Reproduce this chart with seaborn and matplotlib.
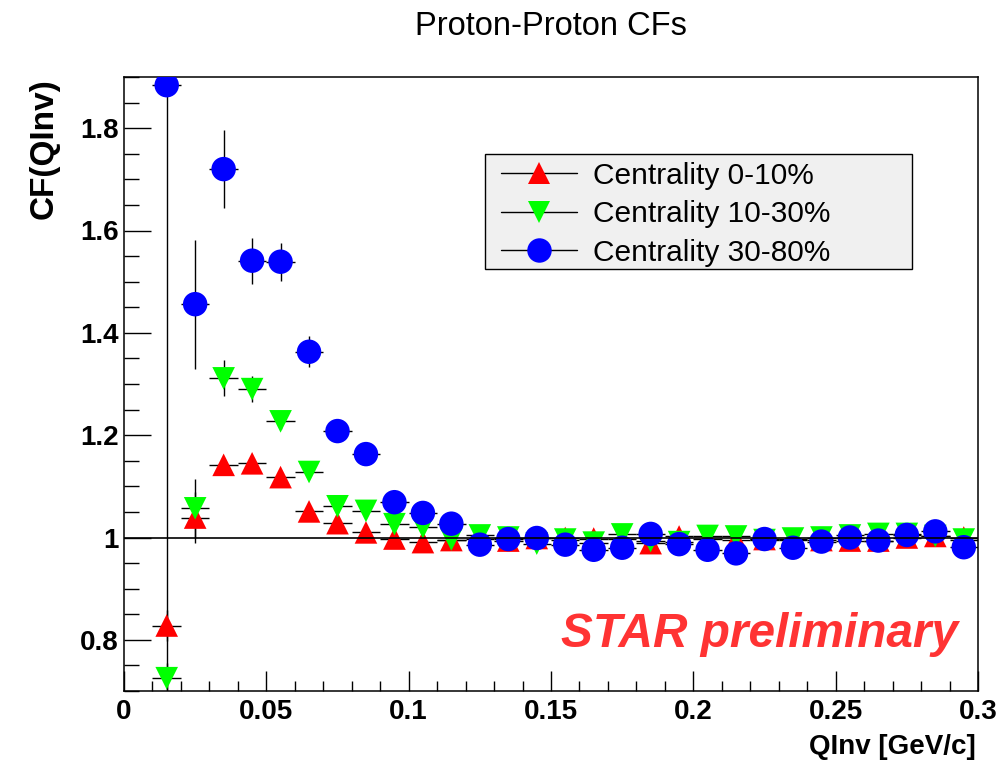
import numpy as np
import pandas as pd
import matplotlib
matplotlib.use("Agg")
import matplotlib.pyplot as plt
from matplotlib.lines import Line2D
from matplotlib.patches import Rectangle
from matplotlib.ticker import MultipleLocator, FuncFormatter
import seaborn as sns

# ---------------- data ----------------
qinv = [0.015, 0.025, 0.035, 0.045, 0.055, 0.065, 0.075, 0.085, 0.095, 0.105,
        0.115, 0.125, 0.135, 0.145, 0.155, 0.165, 0.175, 0.185, 0.195, 0.205,
        0.215, 0.225, 0.235, 0.245, 0.255, 0.265, 0.275, 0.285, 0.295]

cf_0_10 = [0.828, 1.039, 1.142, 1.145, 1.118, 1.051, 1.028, 1.010, 0.998, 0.991,
           0.995, 0.997, 0.994, 0.999, 0.999, 0.998, 0.997, 0.989, 1.002, 0.997,
           0.996, 0.997, 0.995, 0.995, 0.994, 0.994, 1.000, 1.003, 1.000]
err_0_10 = [0.030, 0.050, 0.012, 0.010, 0.008, 0.007, 0.006, 0.005, 0.005, 0.005,
            0.004, 0.004, 0.004, 0.004, 0.004, 0.004, 0.004, 0.004, 0.004, 0.004,
            0.004, 0.004, 0.004, 0.004, 0.004, 0.004, 0.004, 0.004, 0.004]

cf_10_30 = [0.725, 1.057, 1.311, 1.290, 1.227, 1.128, 1.061, 1.052, 1.026, 1.020,
            0.996, 1.004, 1.000, 0.988, 0.996, 0.990, 1.006, 0.993, 0.991, 1.003,
            1.002, 0.995, 0.998, 1.000, 1.004, 1.007, 1.007, 1.003, 0.996]
err_10_30 = [0.030, 0.058, 0.035, 0.025, 0.015, 0.012, 0.010, 0.008, 0.007, 0.006,
             0.005, 0.005, 0.005, 0.005, 0.005, 0.005, 0.005, 0.005, 0.005, 0.005,
             0.005, 0.005, 0.005, 0.005, 0.005, 0.005, 0.005, 0.005, 0.005]

cf_30_80 = [1.884, 1.456, 1.720, 1.541, 1.539, 1.363, 1.208, 1.163, 1.069, 1.048,
            1.027, 0.986, 0.997, 0.999, 0.986, 0.976, 0.980, 1.007, 0.987, 0.976,
            0.969, 0.997, 0.980, 0.992, 1.000, 0.994, 1.005, 1.012, 0.981]
err_30_80 = [1.250, 0.126, 0.076, 0.045, 0.037, 0.030, 0.018, 0.015, 0.012, 0.010,
             0.009, 0.008, 0.007, 0.007, 0.007, 0.007, 0.007, 0.007, 0.007, 0.007,
             0.007, 0.007, 0.007, 0.007, 0.007, 0.007, 0.007, 0.007, 0.007]

bin_halfwidth = 0.005

series_labels = ["Centrality 0-10%", "Centrality 10-30%", "Centrality 30-80%"]
series_values = [cf_0_10, cf_10_30, cf_30_80]
series_errors = [err_0_10, err_10_30, err_30_80]

title_text = "Proton-Proton CFs"
xlabel_text = "QInv [GeV/c]"
ylabel_text = "CF(QInv)"
watermark_text = "STAR preliminary"

# ---------------- style ----------------
sns.set_style("white")
plt.rcParams["font.family"] = ["Liberation Sans", "DejaVu Sans"]
plt.rcParams["text.color"] = "black"
plt.rcParams["xtick.color"] = "black"
plt.rcParams["ytick.color"] = "black"
plt.rcParams["axes.labelcolor"] = "black"

colors = {series_labels[0]: "#ff0000", series_labels[1]: "#00ff00", series_labels[2]: "#0000ff"}
markers = {series_labels[0]: "^", series_labels[1]: "v", series_labels[2]: "o"}
sizes = {series_labels[0]: 265, series_labels[1]: 265, series_labels[2]: 310}

df = pd.concat([
    pd.DataFrame({"qinv": qinv, "cf": v, "err": e, "cent": lab})
    for lab, v, e in zip(series_labels, series_values, series_errors)
], ignore_index=True)

W, H = 1001, 765
fig = plt.figure(figsize=(W / 100, H / 100), dpi=100)
fig.patch.set_facecolor("white")
ax = fig.add_axes([124 / W, 1 - 691 / H, (978 - 124) / W, (691 - 77) / H])

# error bars (drawn under markers)
for lab in series_labels:
    sub = df[df["cent"] == lab]
    ax.errorbar(sub["qinv"], sub["cf"], yerr=sub["err"], xerr=bin_halfwidth,
                fmt="none", ecolor="black", elinewidth=1.0, capsize=0, zorder=2)

# markers, red then green then blue on top
for i, lab in enumerate(series_labels):
    sub = df[df["cent"] == lab]
    sns.scatterplot(data=sub, x="qinv", y="cf", marker=markers[lab], color=colors[lab],
                    s=sizes[lab], linewidth=0, edgecolor="none", ax=ax,
                    legend=False, zorder=3 + i)

ax.axhline(1.0, color="black", lw=1.2, zorder=10)

ax.set_xlim(0, 0.3)
ax.set_ylim(0.7, 1.9)
ax.set_xlabel("")
ax.set_ylabel("")

ax.xaxis.set_major_locator(MultipleLocator(0.05))
ax.xaxis.set_minor_locator(MultipleLocator(0.01))
ax.yaxis.set_major_locator(MultipleLocator(0.2))
ax.yaxis.set_minor_locator(MultipleLocator(0.05))


def fmt(v, pos):
    s = f"{v:.2f}".rstrip("0").rstrip(".")
    return s


ax.xaxis.set_major_formatter(FuncFormatter(fmt))
ax.yaxis.set_major_formatter(FuncFormatter(fmt))

ax.tick_params(axis="both", which="both", direction="in", top=False, right=False,
               bottom=True, left=True, color="black", width=1.0)
ax.tick_params(axis="y", which="major", length=19.4, pad=3.6, labelsize=20)
ax.tick_params(axis="y", which="minor", length=10.8)
ax.tick_params(axis="x", which="major", length=14.4, pad=5.5, labelsize=20)
ax.tick_params(axis="x", which="minor", length=7.5)
for lbl in ax.get_xticklabels() + ax.get_yticklabels():
    lbl.set_fontweight("bold")
    lbl.set_color("black")

for sp in ax.spines.values():
    sp.set_visible(True)
    sp.set_color("black")
    sp.set_linewidth(1.1)

# titles
fig.text(551 / W, 1 - 35 / H, title_text, ha="center", va="baseline", fontsize=23.5)
fig.text(976 / W, 1 - 754 / H, xlabel_text, ha="right", va="baseline",
         fontsize=20, fontweight="bold")
fig.text(44 / W, 1 - 78 / H, ylabel_text, ha="center", va="top", rotation=90,
         fontsize=24, fontweight="bold")

# watermark
fig.text(958 / W, 1 - 647 / H, watermark_text, ha="right", va="baseline",
         fontsize=34.4, fontweight="bold", fontstyle="italic", color="#ff3333")

# legend (ROOT style box)
fig.add_artist(Rectangle((485 / W, 1 - 269 / H), 427 / W, 115 / H,
                         transform=fig.transFigure, facecolor="#f0f0f0",
                         edgecolor="black", linewidth=1.0, zorder=20))
row_y = [173, 211.5, 250]
for lab, ry in zip(series_labels, row_y):
    yy = 1 - ry / H
    fig.add_artist(Line2D([501 / W, 577 / W], [yy, yy], transform=fig.transFigure,
                          color="black", lw=1.0, zorder=21))
    fig.add_artist(Line2D([539 / W], [yy], transform=fig.transFigure,
                          marker=markers[lab], color=colors[lab], linestyle="none",
                          markersize=np.sqrt(sizes[lab]), markeredgewidth=0, zorder=22))
    fig.text(593 / W, yy, lab, ha="left", va="center_baseline", fontsize=21.5, zorder=23)

fig.savefig("out.png", dpi=100, facecolor="white")
